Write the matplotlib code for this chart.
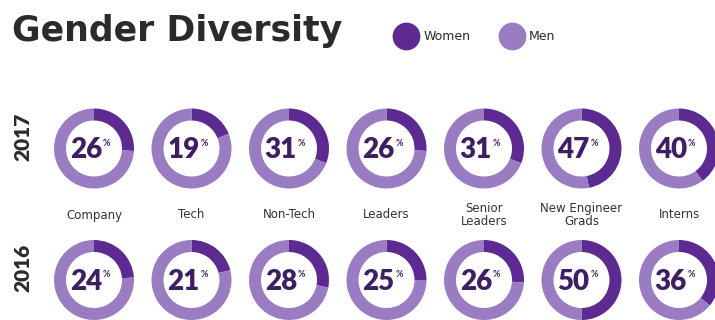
import numpy as np
import matplotlib.pyplot as plt
from matplotlib.lines import Line2D

# share of women per group, by year
categories = ['Company', 'Tech', 'Non-Tech', 'Leaders', 'Senior\nLeaders',
              'New Engineer\nGrads', 'Interns']
women_2017 = [26, 19, 31, 26, 31, 47, 40]
women_2016 = [24, 21, 28, 25, 26, 50, 36]
years = ['2017', '2016']

DARK = '#5c2a91'
LIGHT = '#9a7cc2'
TEXT = '#3f1f63'

W, H = 715, 320
fig = plt.figure(figsize=(W / 100, H / 100), dpi=100)
ax = fig.add_axes([0, 0, 1, 1])

col_x = 94 + 97.5 * np.arange(len(categories))
row_y = [H - 148.5, H - 280]
radius, ring = 40, 12

for year, vals, cy in zip(years, [women_2017, women_2016], row_y):
    for cx, v in zip(col_x, vals):
        ax.pie([v, 100 - v], colors=[DARK, LIGHT], startangle=90,
               counterclock=False, center=(cx, cy), radius=radius,
               wedgeprops=dict(width=ring, linewidth=0))
        ax.text(cx + 8, cy - 10, str(v), ha='right', va='baseline',
                fontsize=20, fontweight='heavy', family='Lato', color=TEXT)
        ax.text(cx + 9, cy + 10, '%', ha='left', va='top',
                fontsize=6.5, fontweight='bold', family='Lato', color=TEXT)
    ax.text(23, cy + 12, year, rotation=90, ha='center', va='center',
            fontsize=15, fontweight='heavy', family='Lato', color='#2b2b2b')

for cx, cat in zip(col_x, categories):
    ax.text(cx, H - 215, cat, ha='center', va='center', fontsize=8.5,
            family='DejaVu Sans', color='#333333', linespacing=0.95)

ax.text(12, H - 31, 'Gender Diversity', ha='left', va='center',
        fontsize=25, fontweight='bold', family='DejaVu Sans', color='#2b2b2b')

handles = [Line2D([], [], ls='none', marker='o', markersize=20,
                  markerfacecolor=c, markeredgewidth=0) for c in (DARK, LIGHT)]
fig.legend(handles, ['Women', 'Men'], loc='center left',
           bbox_to_anchor=(392 / W, 1 - 37 / H), ncol=2, frameon=False,
           borderpad=0, borderaxespad=0,
           handlelength=2.2, handletextpad=0.3, columnspacing=2.2,
           labelcolor='#2b2b2b', prop=dict(family='DejaVu Sans', size=9))

ax.set_xlim(0, W)
ax.set_ylim(0, H)
ax.set_aspect('equal')
ax.axis('off')

fig.savefig('out.png', dpi=100, facecolor='white')
